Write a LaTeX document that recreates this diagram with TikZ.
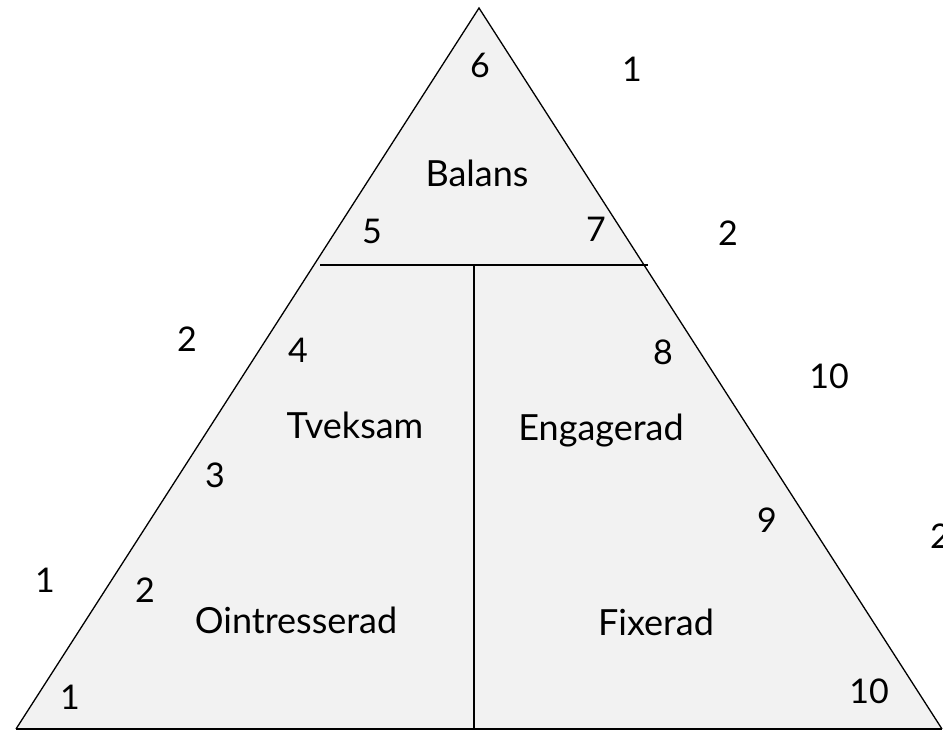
\documentclass[tikz,border=0pt]{standalone}
\usepackage{fontspec}
\setmainfont{Lato}
\usepackage{tikz}
\usetikzlibrary{calc}
\definecolor{pale}{HTML}{F2F2F2}
\definecolor{baseline}{HTML}{CFCFCF}

\begin{document}
\begin{tikzpicture}[x=1pt,y=-1pt,
  num/.style={anchor=base,inner sep=0pt,font=\fontsize{34}{38}\selectfont},
  zone/.style={anchor=base,inner sep=0pt,font=\fontsize{36}{40}\selectfont}]
  \useasboundingbox (0,0) rectangle (943,730);
  \coordinate (apex) at (479,8);
  \coordinate (bl) at (16,729);
  \coordinate (br) at (942,729);
  \coordinate (cutl) at (320,265);
  \coordinate (cutr) at (648,265);
  \coordinate (mid) at (474,265);
  \coordinate (midb) at (474,729);
  \fill[pale] (bl) -- (apex) -- (br) -- cycle;
  \draw[baseline,line width=1.2pt] (bl) -- (br);
  \draw[line width=1.3pt,line join=miter] (bl) -- (apex) -- (br);
  \draw[line width=1.3pt] (cutl) -- (cutr);
  \draw[line width=1.3pt] (mid) -- (midb);
  % zones
  \node[zone] (balans) at (477,187) {Balans};
  \node[zone] (tveksam) at (355,438) {Tveksam};
  \node[zone] (engagerad) at (601,440) {Engagerad};
  \node[zone] (ointr) at (296,633) {Ointresserad};
  \node[zone] (fixerad) at (656,635) {Fixerad};
  % numbers inside
  \node[num] (n6) at (480,78) {6};
  \node[num] (n5) at (372,244) {5};
  \node[num] (n7) at (596,242) {7};
  \node[num] (n4) at (298,362) {4};
  \node[num] (n8) at (663,364) {8};
  \node[num] (n3) at (215,487) {3};
  \node[num] (n9) at (767,532) {9};
  \node[num] (n2) at (145,602) {2};
  \node[num] (n1) at (70,709) {1};
  \node[num] (n10) at (869,703) {10};
  % numbers outside
  \node[num] (o1) at (632,82) {1};
  \node[num] (o2) at (728,246) {2};
  \node[num] (o2b) at (187,352) {2};
  \node[num] (o10) at (829,388) {10};
  \node[num] (o2c) at (940,548) {2};
  \node[num] (o1b) at (45,592) {1};
\end{tikzpicture}
\end{document}
